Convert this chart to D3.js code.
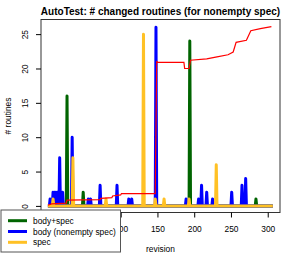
<!DOCTYPE html>
<html>
<head>
<meta charset="utf-8">
<script src="https://cdn.jsdelivr.net/npm/d3@7"></script>
<style>
  body { margin: 0; background: #fff; }
  svg { display: block; font-family: "Liberation Sans", Arial, sans-serif; }
  .axis text { font-size: 8.4px; fill: #000; }
  .axis line { stroke: #000; }
  .legend text { font-size: 8.4px; }
</style>
</head>
<body>
<div id="chart"></div>
<script>
// revisions run from 1 to 307
var firstRev = 1, lastRev = 307;

// spikes per series (revision, count); every other revision is 0
var bodySpecRev = [27, 49, 194, 284];
var bodySpecVal = [16, 2, 24, 1];

var bodyRev = [4, 8, 10, 12, 14, 17, 19, 21, 34, 56, 59, 72, 95, 111, 115, 148, 189, 206, 210, 217, 225, 251, 265, 270];
var bodyVal = [1, 2, 2, 2, 2, 7, 2, 2, 10, 1, 1, 3, 3, 1, 1, 26, 1, 1, 3, 2, 1, 2, 3, 4];

var specRev = [8, 35, 80, 131, 147, 159, 193, 230];
var specVal = [1, 7, 1, 25, 1, 1, 1, 6];

// red running line
var runRev = [1, 6, 26, 27, 72, 73, 88, 89, 100, 101, 147, 149, 150, 186, 187, 193, 195, 217, 231, 246, 253, 257, 271, 277, 290, 305];
var runVal = [0.1, 0.3, 0.4, 0.85, 0.9, 1.1, 1.2, 1.45, 1.6, 1.8, 1.8, 21.1, 20.9, 20.9, 20.0, 20.0, 21.2, 21.4, 21.7, 22.0, 22.4, 23.8, 24.1, 25.5, 25.8, 26.1];

var xTicks = [0, 50, 100, 150, 200, 250, 300];
var yTicks = [0, 5, 10, 15, 20, 25];

var legendNames = ["body+spec", "body (nonempty spec)", "spec"];
var colors = {bodyspec: "#006400", body: "#0000ff", spec: "#ffc125", run: "#ff0000"};

var W = 294, H = 254;
var box = {left: 41, right: 280, top: 19.5, bottom: 212.5};
var legendBox = {x: 1, y: 210, w: 119.5, h: 42};

var svg = d3.select("#chart").append("svg")
  .attr("width", W)
  .attr("height", H);

var x = d3.scaleLinear()
  .domain([-8.4, 316.7])
  .range([box.left, box.right]);

var y = d3.scaleLinear()
  .domain([-0.96, 27.13])
  .range([box.bottom, box.top]);

// full series with zeros between the spikes
function fullSeries(revs, vals){
  var out = [];
  for (var r = firstRev; r <= lastRev; r++){
    var i = revs.indexOf(r);
    out.push({rev: r, val: i < 0 ? 0 : vals[i]});
  }
  return out;
}

var line = d3.line()
  .x(function(d){ return x(d.rev); })
  .y(function(d){ return y(d.val); });

var plot = svg.append("g");

[
  {data: fullSeries(bodySpecRev, bodySpecVal), color: colors.bodyspec},
  {data: fullSeries(bodyRev, bodyVal), color: colors.body},
  {data: fullSeries(specRev, specVal), color: colors.spec}
].forEach(function(s){
  plot.append("path")
    .datum(s.data)
    .attr("d", line)
    .attr("fill", "none")
    .attr("stroke", s.color)
    .attr("stroke-width", 3)
    .attr("stroke-linejoin", "round");
});

var runData = runRev.map(function(r, i){ return {rev: r, val: runVal[i]}; });
plot.append("path")
  .datum(runData)
  .attr("d", line)
  .attr("fill", "none")
  .attr("stroke", colors.run)
  .attr("stroke-width", 1.2);

// box
svg.append("rect")
  .attr("x", box.left)
  .attr("y", box.top)
  .attr("width", box.right - box.left)
  .attr("height", box.bottom - box.top)
  .attr("fill", "none")
  .attr("stroke", "#333")
  .attr("stroke-width", 1);

// axes
var xAxis = svg.append("g")
  .attr("class", "axis")
  .attr("transform", "translate(0," + box.bottom + ")")
  .call(d3.axisBottom(x).tickValues(xTicks).tickSize(5).tickPadding(9));
xAxis.select(".domain").remove();
// labels that sit fully under the legend are never seen
xAxis.selectAll("text")
  .filter(function(d){ return x(d) + 8 < legendBox.x + legendBox.w; })
  .remove();

var yAxis = svg.append("g")
  .attr("class", "axis")
  .attr("transform", "translate(" + box.left + ",0)")
  .call(d3.axisLeft(y).tickValues(yTicks).tickSize(5));
yAxis.select(".domain").remove();
yAxis.selectAll("text")
  .attr("x", 0)
  .attr("dy", 0)
  .attr("text-anchor", "middle")
  .attr("transform", "translate(-13,0) rotate(-90)");

// titles
svg.append("text")
  .attr("x", 160.5)
  .attr("y", 15)
  .attr("text-anchor", "middle")
  .style("font-size", "10px")
  .style("font-weight", "bold")
  .text("AutoTest: # changed routines (for nonempty spec)");

svg.append("text")
  .attr("x", 160.5)
  .attr("y", 252)
  .attr("text-anchor", "middle")
  .style("font-size", "8.4px")
  .text("revision");

svg.append("text")
  .attr("transform", "translate(11," + ((box.top + box.bottom) / 2) + ") rotate(-90)")
  .attr("text-anchor", "middle")
  .style("font-size", "8.4px")
  .text("# routines");

// legend
var legend = svg.append("g").attr("class", "legend");
legend.append("rect")
  .attr("x", legendBox.x)
  .attr("y", legendBox.y)
  .attr("width", legendBox.w)
  .attr("height", legendBox.h)
  .attr("fill", "#fff")
  .attr("stroke", "#555");

var legendColors = [colors.bodyspec, colors.body, colors.spec];
legendNames.forEach(function(name, i){
  var ly = 220.7 + i * 10.8;
  legend.append("line")
    .attr("x1", 8).attr("x2", 27)
    .attr("y1", ly).attr("y2", ly)
    .attr("stroke", legendColors[i])
    .attr("stroke-width", 3);
  legend.append("text")
    .attr("x", 33)
    .attr("y", ly + 3)
    .text(name);
});
</script>
</body>
</html>
